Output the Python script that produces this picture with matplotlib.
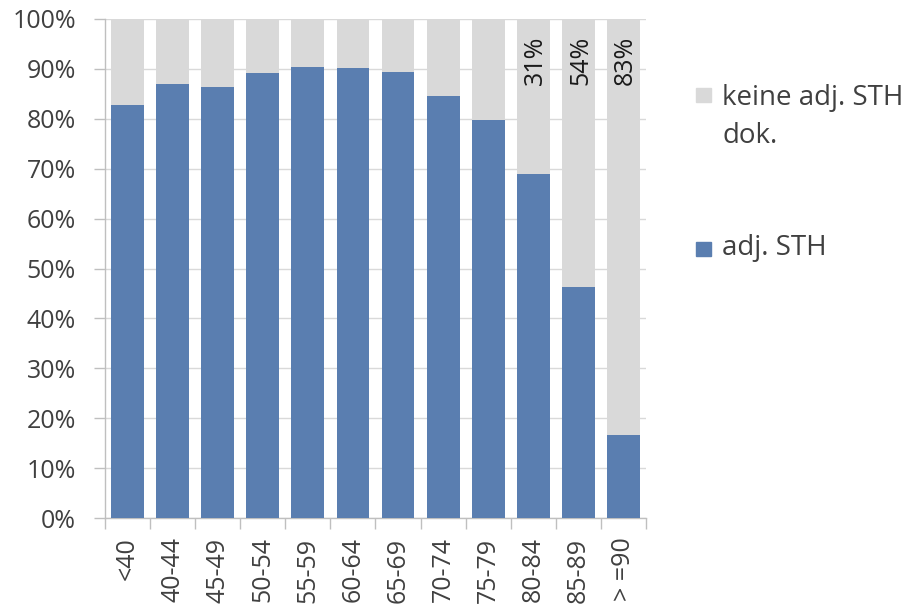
import matplotlib
matplotlib.use("Agg")
import matplotlib.pyplot as plt
from matplotlib.patches import Rectangle

# Age groups and shares (percent) of documented adjuvant therapy
categories = ["<40", "40-44", "45-49", "50-54", "55-59", "60-64", "65-69",
              "70-74", "75-79", "80-84", "85-89", "> =90"]
adj_sth = [82.8, 87.0, 86.3, 89.1, 90.4, 90.2, 89.4, 84.6, 79.8, 69.0, 46.2, 16.6]
keine_adj_sth = [17.2, 13.0, 13.7, 10.9, 9.6, 9.8, 10.6, 15.4, 20.2, 31.0, 53.8, 83.4]
labelled = ["80-84", "85-89", "> =90"]
legend_labels = ["keine adj. STH\ndok.", "adj. STH"]

blue = "#5A7EB0"
grey = "#D9D9D9"
text_col = "#404040"
fs = 18
legend_fs = 20

plt.rcParams["font.family"] = ["Open Sans", "DejaVu Sans"]

fig = plt.figure(figsize=(9.07, 6.07), dpi=100)
W, H = 907, 607
ax = fig.add_axes([105 / W, 1 - 518 / H, (646 - 105) / W, (518 - 19) / H])

x = list(range(len(categories)))
width = 0.73
ax.bar(x, adj_sth, width=width, color=blue, zorder=3)
ax.bar(x, keine_adj_sth, width=width, bottom=adj_sth, color=grey, zorder=3)

for i, cat in enumerate(categories):
    if cat in labelled:
        ax.text(i + 0.05, 96.6, f"{keine_adj_sth[i]:.0f}%", rotation=90,
                ha="center", va="top", fontsize=fs, color="#1a1a1a", zorder=4)

ax.set_xlim(-0.5, len(categories) - 0.5)
ax.set_ylim(0, 100)
ax.set_yticks(range(0, 101, 10))
ax.set_yticklabels([f"{v}%" for v in range(0, 101, 10)])
ax.yaxis.grid(True, color=grey, linewidth=1.0, zorder=0)
ax.set_axisbelow(True)

ax.set_xticks(x)
ax.set_xticklabels(categories, rotation=90, va="top", ha="center")
ax.set_xticks([i - 0.5 for i in range(len(categories) + 1)], minor=True)
ax.tick_params(axis="x", which="major", length=0, pad=14, labelsize=fs, labelcolor=text_col)
ax.tick_params(axis="x", which="minor", length=8, color="#BFBFBF", width=1)
ax.tick_params(axis="y", length=8, color="#BFBFBF", width=1, pad=13,
               labelsize=fs, labelcolor=text_col)

for s in ["top", "right"]:
    ax.spines[s].set_visible(False)
for s in ["left", "bottom"]:
    ax.spines[s].set_color("#BFBFBF")
    ax.spines[s].set_linewidth(1)

# Legend drawn as figure-level squares and labels
sq_w, sq_h = 15, 14
fig.patches.append(Rectangle((696 / W, 1 - 102 / H), sq_w / W, sq_h / H,
                             transform=fig.transFigure, color=grey))
first_line, second_line = legend_labels[0].split("\n")
fig.text(722 / W, 1 - 105 / H, first_line, fontsize=legend_fs, color=text_col,
         va="baseline", ha="left")
fig.text(722 / W, 1 - 143 / H, second_line, fontsize=legend_fs, color=text_col,
         va="baseline", ha="left")
fig.patches.append(Rectangle((696 / W, 1 - 256 / H), sq_w / W, sq_h / H,
                             transform=fig.transFigure, color=blue))
fig.text(722 / W, 1 - 255 / H, legend_labels[1], fontsize=legend_fs, color=text_col,
         va="baseline", ha="left")

fig.savefig("out.png", dpi=100)
